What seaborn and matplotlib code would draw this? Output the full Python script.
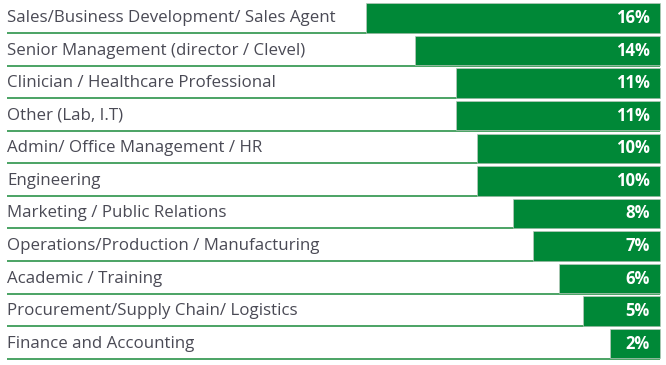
import matplotlib
matplotlib.use("Agg")
import matplotlib.pyplot as plt
import seaborn as sns
import pandas as pd

categories = [
    "Sales/Business Development/ Sales Agent",
    "Senior Management (director / Clevel)",
    "Clinician / Healthcare Professional",
    "Other (Lab, I.T)",
    "Admin/ Office Management / HR",
    "Engineering",
    "Marketing / Public Relations",
    "Operations/Production / Manufacturing",
    "Academic / Training",
    "Procurement/Supply Chain/ Logistics",
    "Finance and Accounting",
]
shares = [16.0, 13.3, 11.1, 11.1, 9.95, 9.95, 8.0, 6.9, 5.5, 4.2, 2.7]
share_labels = ["16%", "14%", "11%", "11%", "10%", "10%", "8%", "7%", "6%", "5%", "2%"]

GREEN = "#008837"
LINE_GREEN = "#1a8a3a"
TEXT = "#4a4a55"

sns.set_theme(style="white")
plt.rcParams["font.family"] = ["Open Sans", "DejaVu Sans"]

df = pd.DataFrame({"category": categories, "share": shares})

fig = plt.figure(figsize=(6.66, 3.65), dpi=100)
ax = fig.add_axes([0, 0, 1, 1])

PX = 18.4  # pixels per percent
RIGHT = 660.0
pitch = 32.57
top_center = 18.0

# underlines
x_left = (RIGHT - 7) / PX
for i in range(len(categories)):
    ax.hlines(i + 0.46, x_left, 0, color=LINE_GREEN, linewidth=1.1, zorder=1)

sns.barplot(data=df, x="share", y="category", orient="h", color=GREEN,
            saturation=1, width=0.9, ax=ax, zorder=2,
            edgecolor="#b8c8bc", linewidth=0.5)

ax.set_xlim(RIGHT / PX, -(666 - RIGHT) / PX)
y0 = -top_center / pitch
ax.set_ylim(y0 + 365 / pitch, y0)

for i, (cat, lab) in enumerate(zip(categories, share_labels)):
    ax.text(x_left, i, cat, ha="left", va="center", fontsize=12.2,
            color=TEXT, zorder=3)
    ax.text((RIGHT - 650) / PX, i, lab, ha="right", va="center", fontsize=12,
            color="white", fontweight="bold", zorder=3)

ax.set_axis_off()
fig.savefig("out.png", dpi=100)
